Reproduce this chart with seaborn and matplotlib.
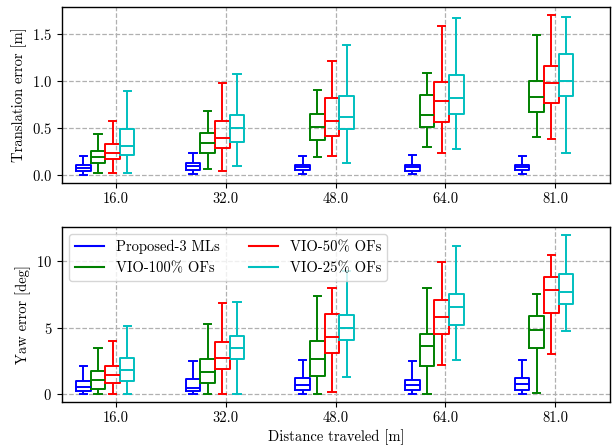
import numpy as np
import pandas as pd
import matplotlib
matplotlib.use("Agg")
import matplotlib.pyplot as plt
from matplotlib.lines import Line2D
import seaborn as sns

distances = ["16.0", "32.0", "48.0", "64.0", "81.0"]
methods = ["Proposed-3 MLs", "VIO-100% OFs", "VIO-50% OFs", "VIO-25% OFs"]
colors = ["#0000ff", "#008000", "#ff0000", "#00bfbf"]

# five-number summaries [min, q1, median, q3, max] per distance
trans_proposed = [[0.005, 0.045, 0.075, 0.115, 0.21], [0.01, 0.06, 0.095, 0.13, 0.24],
                  [0.015, 0.06, 0.09, 0.115, 0.21], [0.01, 0.05, 0.09, 0.115, 0.215],
                  [0.01, 0.055, 0.09, 0.115, 0.205]]
trans_vio100 = [[0.02, 0.13, 0.19, 0.26, 0.44], [0.065, 0.24, 0.34, 0.45, 0.685],
                [0.20, 0.37, 0.51, 0.655, 0.91], [0.305, 0.51, 0.645, 0.855, 1.09],
                [0.41, 0.67, 0.83, 1.0, 1.485]]
trans_vio50 = [[0.02, 0.17, 0.24, 0.33, 0.575], [0.05, 0.29, 0.40, 0.575, 0.975],
               [0.21, 0.42, 0.575, 0.825, 1.21], [0.24, 0.57, 0.785, 0.99, 1.585],
               [0.39, 0.77, 0.98, 1.16, 1.70]]
trans_vio25 = [[0.03, 0.215, 0.31, 0.495, 0.89], [0.10, 0.35, 0.50, 0.645, 1.08],
               [0.13, 0.495, 0.62, 0.845, 1.38], [0.275, 0.65, 0.82, 1.06, 1.665],
               [0.24, 0.845, 1.0, 1.29, 1.68]]

yaw_proposed = [[0.0, 0.23, 0.53, 1.0, 2.1], [0.0, 0.25, 0.48, 1.14, 2.5],
                [0.0, 0.28, 0.68, 1.21, 2.58], [0.0, 0.28, 0.71, 1.09, 2.5],
                [0.0, 0.33, 0.73, 1.24, 2.58]]
yaw_vio100 = [[0.0, 0.38, 1.04, 1.74, 3.49], [0.0, 0.8, 1.7, 2.63, 5.3],
              [0.0, 1.34, 2.68, 3.97, 7.4], [0.0, 2.1, 3.61, 4.55, 8.0],
              [0.08, 3.44, 4.8, 5.9, 7.55]]
yaw_vio50 = [[0.0, 0.8, 1.4, 2.1, 4.0], [0.0, 1.87, 2.73, 3.92, 6.87],
             [0.13, 3.1, 4.32, 6.0, 8.03], [2.2, 4.52, 5.81, 7.07, 9.95],
             [3.03, 6.09, 7.86, 8.82, 10.5]]
yaw_vio25 = [[0.0, 0.95, 1.8, 2.7, 5.1], [0.03, 2.63, 3.49, 4.35, 6.95],
             [1.27, 4.07, 5.0, 5.94, 9.3], [2.58, 5.18, 6.57, 7.55, 11.15],
             [4.75, 6.77, 7.7, 9.05, 12.0]]


def build_frame(series_list):
    rows = []
    for m, series in zip(methods, series_list):
        for d, vals in zip(distances, series):
            for v in vals:
                rows.append({"distance": d, "method": m, "value": v})
    return pd.DataFrame(rows)


df_trans = build_frame([trans_proposed, trans_vio100, trans_vio50, trans_vio25])
df_yaw = build_frame([yaw_proposed, yaw_vio100, yaw_vio50, yaw_vio25])

plt.rcParams["font.family"] = ["cmr10", "DejaVu Serif"]
plt.rcParams["mathtext.fontset"] = "cm"
plt.rcParams["axes.formatter.use_mathtext"] = True
plt.rcParams["font.size"] = 10.5

fig = plt.figure(figsize=(6.13, 4.45), dpi=100)
ax1 = fig.add_axes([0.101, 0.589, 0.894, 0.395])
ax2 = fig.add_axes([0.101, 0.0966, 0.894, 0.3934])

palette = dict(zip(methods, colors))
for ax, df, ylabel in [(ax1, df_trans, "Translation error [m]"), (ax2, df_yaw, "Yaw error [deg]")]:
    sns.boxplot(data=df, x="distance", y="value", hue="method", order=distances,
                hue_order=methods, palette=palette, fill=False, width=0.533,
                whis=(0, 100), showfliers=False, linewidth=1.4, legend=False, ax=ax)
    ax.set_xlim(-0.395, 4.6)
    ax.set_xticks(np.arange(len(distances)) + 0.1)
    ax.set_xticklabels(distances)
    ax.grid(True, linestyle="--", color="#b0b0b0", linewidth=0.9)
    ax.set_axisbelow(True)
    ax.set_ylabel(ylabel)
    ax.set_xlabel("")
    for s in ax.spines.values():
        s.set_linewidth(1.0)
        s.set_color("black")
    ax.tick_params(direction="out", length=3.5, width=0.8)

ax1.set_yticks([0.0, 0.5, 1.0, 1.5])
ax2.set_yticks([0, 5, 10])
ax2.set_xlabel("Distance traveled [m]", labelpad=2.5)

handles = [Line2D([0], [0], color=c, lw=1.5) for c in colors]
ax2.legend(handles, methods, loc="upper left", ncol=2, framealpha=0.8)

fig.savefig("out.png", dpi=100)
